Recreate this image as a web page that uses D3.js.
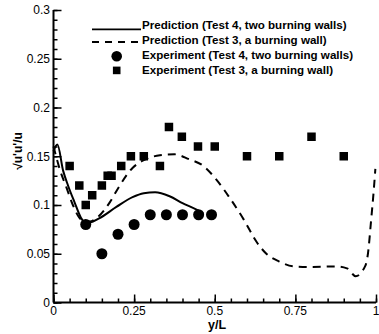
<!DOCTYPE html>
<html>
<head>
<meta charset="utf-8">
<script src="https://cdn.jsdelivr.net/npm/d3@7"></script>
<style>
  body { margin: 0; background: #fff; }
  svg { display: block; }
  text { font-family: "Liberation Sans", Arial, Helvetica, sans-serif; }
</style>
</head>
<body>
<div id="chart"></div>
<script>
// prediction curves
const predTest4 = [
  [0, 0.155], [0.012, 0.162], [0.03, 0.135], [0.045, 0.12], [0.065, 0.103],
  [0.085, 0.087], [0.1, 0.081], [0.14, 0.086], [0.195, 0.098], [0.245, 0.108],
  [0.28, 0.112], [0.315, 0.113], [0.36, 0.109], [0.4, 0.102], [0.445, 0.095], [0.465, 0.091]
];
const predTest3 = [
  [0, 0.16], [0.02, 0.136], [0.04, 0.118], [0.06, 0.1], [0.08, 0.087],
  [0.097, 0.083], [0.112, 0.083], [0.135, 0.087], [0.175, 0.103], [0.2, 0.117],
  [0.245, 0.138], [0.28, 0.146], [0.33, 0.151], [0.375, 0.152], [0.42, 0.147],
  [0.465, 0.14], [0.505, 0.126], [0.547, 0.107], [0.59, 0.085], [0.63, 0.062],
  [0.66, 0.05], [0.7, 0.042], [0.745, 0.037], [0.8, 0.0365], [0.875, 0.037],
  [0.91, 0.035], [0.937, 0.027], [0.966, 0.037], [0.975, 0.05], [0.985, 0.085],
  [0.993, 0.115], [0.998, 0.137]
];
// experiments
const expTest4 = [
  [0.1, 0.08], [0.15, 0.05], [0.2, 0.07], [0.25, 0.08], [0.3, 0.09],
  [0.35, 0.09], [0.4, 0.09], [0.45, 0.09], [0.49, 0.09]
];
const expTest3 = [
  [0.05, 0.14], [0.08, 0.12], [0.1, 0.1], [0.12, 0.11], [0.15, 0.12],
  [0.168, 0.13], [0.18, 0.13], [0.21, 0.14], [0.24, 0.15], [0.28, 0.15],
  [0.33, 0.14], [0.358, 0.18], [0.398, 0.17], [0.448, 0.16], [0.5, 0.16],
  [0.6, 0.15], [0.7, 0.15], [0.8, 0.17], [0.9, 0.15]
];
const xTicks = [0, 0.25, 0.5, 0.75, 1];
const yTicks = [0, 0.05, 0.1, 0.15, 0.2, 0.25, 0.3];
const legendLabels = [
  "Prediction (Test 4, two burning walls)",
  "Prediction (Test 3, a burning wall)",
  "Experiment (Test 4, two burning walls)",
  "Experiment (Test 3, a burning wall)"
];

const width = 379, height = 334;
const svg = d3.select("#chart").append("svg")
  .attr("width", width).attr("height", height);

const x = d3.scaleLinear().domain([0, 1]).range([53.5, 376]);
const y = d3.scaleLinear().domain([0, 0.3]).range([302.5, 10]);

// axes, ticks pointing inward
const xMinor = d3.range(0, 1.0001, 0.05);
const yMinor = d3.range(0, 0.3001, 0.01);

const gx = svg.append("g").attr("transform", `translate(0,${y(0)})`);
gx.call(d3.axisTop(x).tickValues(xMinor).tickSize(4).tickFormat(""));
gx.append("g").call(d3.axisTop(x).tickValues(xTicks).tickSize(8).tickFormat(""));
gx.selectAll(".domain").remove();
gx.selectAll("line").attr("stroke", "#000").attr("stroke-width", 1.5);

const gy = svg.append("g").attr("transform", `translate(${x(0)},0)`);
gy.call(d3.axisRight(y).tickValues(yMinor).tickSize(4).tickFormat(""));
gy.append("g").call(d3.axisRight(y).tickValues(yTicks).tickSize(8).tickFormat(""));
gy.selectAll(".domain").remove();
gy.selectAll("line").attr("stroke", "#000").attr("stroke-width", 1.5);

svg.append("line").attr("x1", x(0)).attr("x2", x(1)).attr("y1", y(0)).attr("y2", y(0))
  .attr("stroke", "#000").attr("stroke-width", 2);
svg.append("line").attr("x1", x(0)).attr("x2", x(0)).attr("y1", y(0)).attr("y2", y(0.3))
  .attr("stroke", "#000").attr("stroke-width", 2);

// tick labels
svg.selectAll(".xl").data(xTicks).enter().append("text")
  .attr("x", d => x(d)).attr("y", 315)
  .attr("text-anchor", "middle").attr("font-size", 12)
  .text(d => d3.format("~g")(d));
svg.selectAll(".yl").data(yTicks).enter().append("text")
  .attr("x", 50).attr("y", d => y(d) + 4.3)
  .attr("text-anchor", "end").attr("font-size", 12)
  .text(d => d3.format("~g")(d));

svg.append("text").attr("x", 217).attr("y", 328.5)
  .attr("text-anchor", "middle").attr("font-size", 12.5).attr("font-weight", "bold")
  .text("y/L");
svg.append("text").attr("transform", "translate(21.5,151) rotate(-90)")
  .attr("text-anchor", "middle").attr("font-size", 12).attr("font-weight", "bold")
  .text("\u221Au'u'/u");

// curves
const line = d3.line().x(d => x(d[0])).y(d => y(d[1])).curve(d3.curveMonotoneX);
svg.append("path").datum(predTest3).attr("d", line)
  .attr("fill", "none").attr("stroke", "#000").attr("stroke-width", 2)
  .attr("stroke-dasharray", "8,6");
svg.append("path").datum(predTest4).attr("d", line)
  .attr("fill", "none").attr("stroke", "#000").attr("stroke-width", 2);

// markers
svg.selectAll(".sq").data(expTest3).enter().append("rect")
  .attr("x", d => x(d[0]) - 4.25).attr("y", d => y(d[1]) - 4.25)
  .attr("width", 8.5).attr("height", 8.5).attr("fill", "#000");
svg.selectAll(".ci").data(expTest4).enter().append("circle")
  .attr("cx", d => x(d[0])).attr("cy", d => y(d[1])).attr("r", 5.5)
  .attr("fill", "#000");

// legend
const lg = svg.append("g");
const rowY = [25, 40, 55, 70];
lg.selectAll("text").data(legendLabels).enter().append("text")
  .attr("x", 142).attr("y", (d, i) => rowY[i] + 4.2)
  .attr("font-size", 11.6).attr("font-weight", "bold")
  .text(d => d);
lg.append("line").attr("x1", 92).attr("x2", 141).attr("y1", 29.3).attr("y2", 29.3)
  .attr("stroke", "#000").attr("stroke-width", 1.8);
lg.append("line").attr("x1", 92).attr("x2", 141).attr("y1", 42).attr("y2", 42)
  .attr("stroke", "#000").attr("stroke-width", 1.8).attr("stroke-dasharray", "7,6");
lg.append("circle").attr("cx", 116.7).attr("cy", 56.3).attr("r", 5.3).attr("fill", "#000");
lg.append("rect").attr("x", 116.7 - 3.8).attr("y", 70.4 - 3.8)
  .attr("width", 7.6).attr("height", 7.6).attr("fill", "#000");
</script>
</body>
</html>
